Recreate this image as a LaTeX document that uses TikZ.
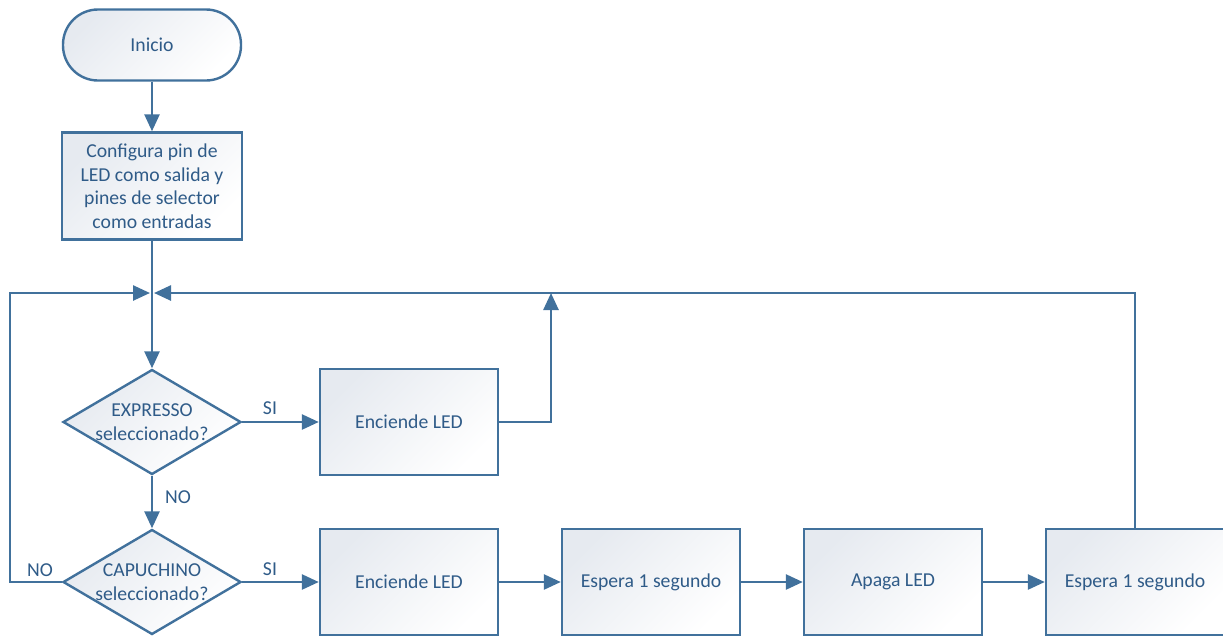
\documentclass[tikz,border=0pt]{standalone}
\usepackage{fontspec}
\setmainfont{Carlito}
\usetikzlibrary{shapes.geometric,arrows.meta}
\definecolor{linea}{HTML}{41719C}
\definecolor{texto}{HTML}{2F5B88}
\definecolor{relleno}{HTML}{E6EAF0}
\tikzset{
  base/.style={draw=linea, line width=2.4pt, top color=relleno, bottom color=white,
               shading angle=45, text=texto, align=center,
               font=\fontsize{19.7}{23.5}\selectfont},
  caja/.style={base, rectangle, minimum width=178pt, minimum height=106pt, inner sep=0pt},
  inicio/.style={base, rectangle, rounded corners=35pt, minimum width=178pt,
                 minimum height=71pt},
  decision/.style={base, diamond, minimum width=178pt, minimum height=105pt, inner sep=0pt},
  flecha/.style={draw=linea, line width=2.6pt, -{Triangle[length=17pt,width=15pt]}},
  linea/.style={draw=linea, line width=2.6pt},
  etiqueta/.style={text=texto, font=\fontsize{19.7}{23.5}\selectfont}
}
\begin{document}
\begin{tikzpicture}[x=1pt,y=-1pt]
\useasboundingbox (0,0) rectangle (1223,635);
\clip (0,0) rectangle (1223,635);
% bloques
\node [inicio] (ini) at (152,45) {Inicio};
\node [caja, minimum width=180pt, minimum height=107pt] (conf) at (152,186)
      {Configura pin de\\LED como salida y\\pines de selector\\como entradas};
\coordinate (union) at (152,293);
\node [decision, label={[etiqueta, align=center]center:EXPRESSO\\seleccionado?}] (expr) at (152,422) {};
\node [decision, label={[etiqueta, align=center]center:CAPUCHINO\\seleccionado?}] (capu) at (152,582) {};
\node [caja] (led1) at (409,422) {Enciende LED};
\node [caja] (led2) at (409,582) {Enciende LED};
\node [caja] (esp1) at (651,582) {Espera 1 segundo};
\node [caja] (apaga) at (893,582) {Apaga LED};
\node [caja] (esp2) at (1135,582) {Espera 1 segundo};
% conexiones
\draw [flecha] (ini) -- (conf);
\draw [linea] (conf) -- (union);
\draw [flecha] (union) -- (expr.north);
\draw [flecha] (expr) -- (capu);
\draw [flecha] (expr) -- (led1);
\draw [flecha] (capu) -- (led2);
\draw [flecha] (led2) -- (esp1);
\draw [flecha] (esp1) -- (apaga);
\draw [flecha] (apaga) -- (esp2);
\draw [flecha] (led1.east) -- (551,422) -- (551,293);
\draw [flecha] (esp2.north) -- (1135,293) -- ([xshift=2pt]union);
\draw [flecha] (capu.west) -- (10,582) -- (10,293) -- ([xshift=-2pt]union);
% textos
\node [etiqueta] (si1) at (270,408) {SI};
\node [etiqueta] (no1) at (178,497) {NO};
\node [etiqueta] (si2) at (270,569) {SI};
\node [etiqueta] (no2) at (40,570) {NO};
\end{tikzpicture}
\end{document}
